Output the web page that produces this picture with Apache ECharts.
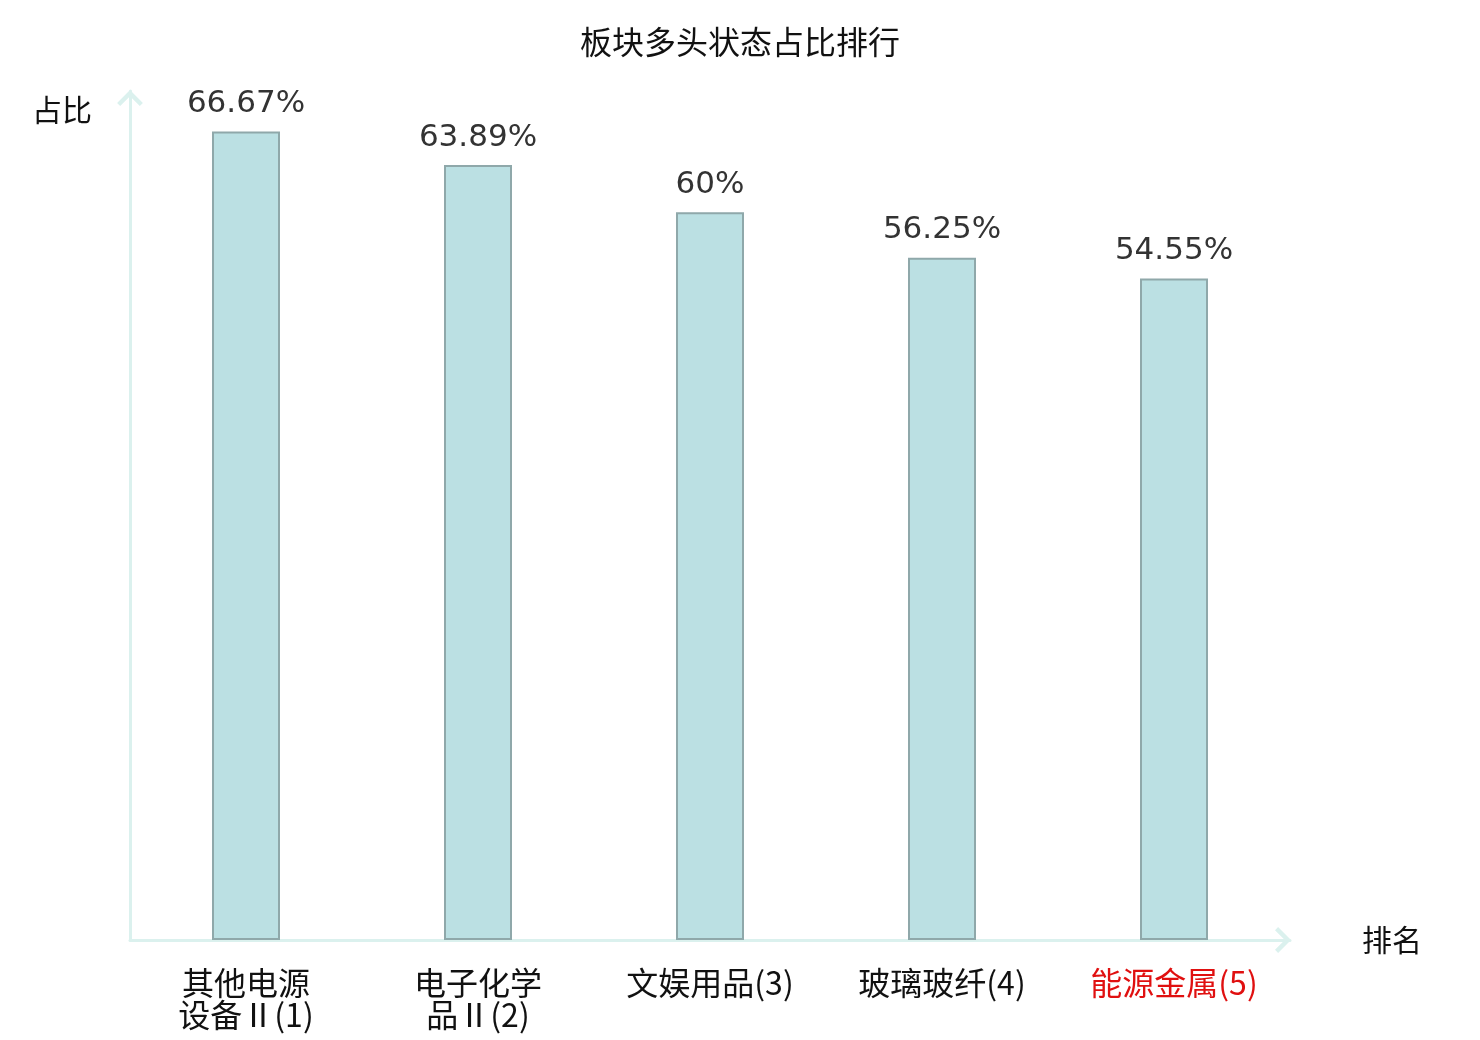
<!DOCTYPE html>
<html lang="zh">
<head>
  <meta charset="UTF-8">
  <title>板块多头状态占比排行</title>
  <script src="https://cdn.jsdelivr.net/npm/echarts@6/dist/echarts.min.js"></script>
  <style>
    html, body { margin: 0; padding: 0; background: #fff; }
    #chart { width: 1480px; height: 1040px; }
  </style>
</head>
<body>
  <div id="chart"></div>
<script>
  // 数据
  const categories = ['其他电源设备Ⅱ(1)', '电子化学品Ⅱ(2)', '文娱用品(3)', '玻璃玻纤(4)', '能源金属(5)'];
  const ratios = [66.67, 63.89, 60, 56.25, 54.55];
  const highlightIndex = 4; // 标红的板块

  const axisColor = '#dbf1ee';
  // 开口箭头（朝上绘制，echarts 会按轴方向旋转）
  const chevron = 'path://M0 10 L10 0 L20 10 L17.6 12.4 L10 4.8 L2.4 12.4 Z';

  let myChart = echarts.init(document.getElementById('chart'));

  let option = {
    backgroundColor: '#fff',
    title: {
      text: '板块多头状态占比排行',
      left: 'center',
      top: 21,
      textStyle: {
        fontSize: 32,
        fontWeight: 'normal',
        color: '#111',
        fontFamily: 'Noto Sans CJK SC'
      }
    },
    grid: {
      left: 130,
      right: 190,
      top: 91,
      bottom: 100
    },
    xAxis: {
      type: 'category',
      data: categories.map((c, i) => i === highlightIndex
        ? { value: c, textStyle: { color: '#e01010' } }
        : c),
      name: '排名',
      nameGap: 72,
      nameTextStyle: {
        fontSize: 30,
        color: '#111',
        fontFamily: 'Noto Sans CJK SC',
        align: 'left'
      },
      axisLine: {
        lineStyle: { color: axisColor, width: 3 },
        symbol: ['none', chevron],
        symbolSize: [26, 16],
        symbolOffset: [0, -7]
      },
      axisTick: { show: false },
      axisLabel: {
        margin: 27,
        fontSize: 32,
        lineHeight: 32,
        color: '#111',
        fontFamily: 'Noto Sans CJK SC',
        interval: 0,
        // 名字过长时折成两行
        formatter: (v) => v.length > 8 ? v.slice(0, 4) + '\n' + v.slice(4) : v
      }
    },
    yAxis: {
      type: 'value',
      min: 0,
      max: 70,
      name: '占比',
      nameGap: -4,
      nameTextStyle: {
        fontSize: 30,
        color: '#111',
        fontFamily: 'Noto Sans CJK SC',
        align: 'right',
        verticalAlign: 'top',
        padding: [0, 38, 0, 0]
      },
      axisLine: {
        show: true,
        lineStyle: { color: axisColor, width: 3 },
        symbol: ['none', chevron],
        symbolSize: [26, 16],
        symbolOffset: [0, -7]
      },
      axisTick: { show: false },
      axisLabel: { show: false },
      splitLine: { show: false }
    },
    series: [
      {
        type: 'bar',
        data: ratios,
        barWidth: 68,
        itemStyle: {
          color: '#bbe0e3',
          borderColor: '#8fa8aa',
          borderWidth: 2
        },
        label: {
          show: true,
          position: 'top',
          distance: 12,
          fontSize: 31,
          color: '#333',
          fontFamily: 'DejaVu Sans',
          formatter: (p) => p.value + '%'
        }
      }
    ]
  };

  myChart.setOption(option);
</script>
</body>
</html>
